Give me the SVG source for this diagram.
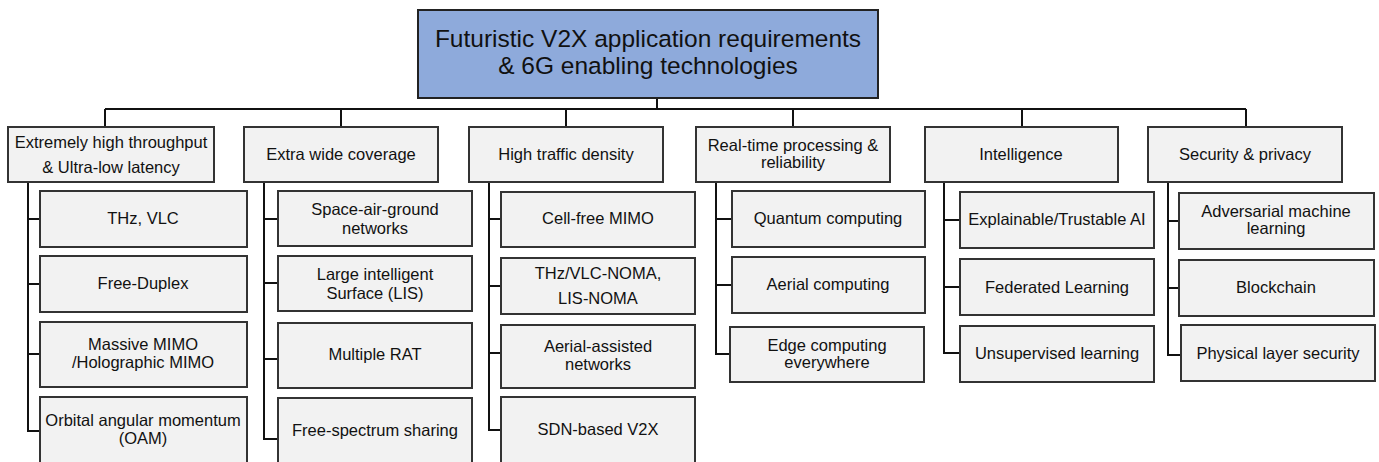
<svg xmlns="http://www.w3.org/2000/svg" width="1379" height="462" viewBox="0 0 1379 462">
<style>
.root{fill:#8eaadb;stroke:#222;stroke-width:2}
.box{fill:#f2f2f2;stroke:#333;stroke-width:2}
.t{font-family:"Liberation Sans",Arial,sans-serif;font-size:16.5px;fill:#111;text-anchor:middle}
.rt{font-family:"Liberation Sans",Arial,sans-serif;font-size:24.5px;fill:#111;text-anchor:middle}
.c{fill:none;stroke:#111;stroke-width:2}
</style>
<rect width="1379" height="462" fill="#fff"/>
<g id="connectors" class="c">
<path d="M657 98V109M105 109H1246M105 109V127M341 109V127M566 109V127M793 109V127M1022 109V127M1246 109V127"/>
<path d="M28 182V431H40M28 219H40M28 284H40M28 354H40"/>
<path d="M264 182V439H278M264 219H278M264 283H278M264 359H278"/>
<path d="M489 182V430H501M489 219H501M489 286H501M489 353H501"/>
<path d="M716 182V354H731M716 219H732M716 285H732"/>
<path d="M944 182V353H960M944 220H960M944 287H960"/>
<path d="M1168 182V355H1181M1168 221H1179M1168 288H1179"/>
</g>
<g id="root"><rect class="root" x="418" y="10" width="460" height="88"/><text class="rt" x="648" y="47">Futuristic V2X application requirements</text><text class="rt" x="648" y="74">&amp; 6G enabling technologies</text></g>
<g id="n1"><rect class="box" x="8" y="127" width="206" height="55"/><text class="t" x="111" y="148">Extremely high throughput</text><text class="t" x="111" y="173">&amp; Ultra-low latency</text></g>
<g id="n2"><rect class="box" x="244" y="127" width="194" height="55"/><text class="t" x="341" y="160">Extra wide coverage</text></g>
<g id="n3"><rect class="box" x="469" y="127" width="194" height="55"/><text class="t" x="566" y="160">High traffic density</text></g>
<g id="n4"><rect class="box" x="696" y="127" width="194" height="55"/><text class="t" x="793" y="151">Real-time processing &amp;</text><text class="t" x="793" y="168">reliability</text></g>
<g id="n5"><rect class="box" x="925" y="127" width="193" height="55"/><text class="t" x="1021" y="160">Intelligence</text></g>
<g id="n6"><rect class="box" x="1148" y="127" width="194" height="55"/><text class="t" x="1245" y="160">Security &amp; privacy</text></g>
<g id="n1a"><rect class="box" x="40" y="191" width="207" height="56"/><text class="t" x="143" y="224">THz, VLC</text></g>
<g id="n1b"><rect class="box" x="40" y="256" width="207" height="56"/><text class="t" x="143" y="289">Free-Duplex</text></g>
<g id="n1c"><rect class="box" x="40" y="322" width="207" height="65"/><text class="t" x="143" y="350">Massive MIMO</text><text class="t" x="143" y="368">/Holographic MIMO</text></g>
<g id="n1d"><rect class="box" x="40" y="397" width="207" height="80"/><text class="t" x="143" y="426">Orbital angular momentum</text><text class="t" x="143" y="444">(OAM)</text></g>
<g id="n2a"><rect class="box" x="278" y="191" width="194" height="55"/><text class="t" x="375" y="215">Space-air-ground</text><text class="t" x="375" y="234">networks</text></g>
<g id="n2b"><rect class="box" x="278" y="256" width="194" height="55"/><text class="t" x="375" y="280">Large intelligent</text><text class="t" x="375" y="299">Surface (LIS)</text></g>
<g id="n2c"><rect class="box" x="278" y="323" width="194" height="65"/><text class="t" x="375" y="360">Multiple RAT</text></g>
<g id="n2d"><rect class="box" x="278" y="398" width="194" height="80"/><text class="t" x="375" y="436">Free-spectrum sharing</text></g>
<g id="n3a"><rect class="box" x="501" y="192" width="194" height="55"/><text class="t" x="598" y="224">Cell-free MIMO</text></g>
<g id="n3b"><rect class="box" x="501" y="258" width="194" height="56"/><text class="t" x="598" y="279">THz/VLC-NOMA,</text><text class="t" x="598" y="304">LIS-NOMA</text></g>
<g id="n3c"><rect class="box" x="501" y="325" width="194" height="63"/><text class="t" x="598" y="352">Aerial-assisted</text><text class="t" x="598" y="370">networks</text></g>
<g id="n3d"><rect class="box" x="501" y="397" width="194" height="80"/><text class="t" x="598" y="435">SDN-based V2X</text></g>
<g id="n4a"><rect class="box" x="732" y="191" width="193" height="56"/><text class="t" x="828" y="224">Quantum computing</text></g>
<g id="n4b"><rect class="box" x="732" y="257" width="193" height="56"/><text class="t" x="828" y="290">Aerial computing</text></g>
<g id="n4c"><rect class="box" x="730" y="327" width="194" height="55"/><text class="t" x="827" y="351">Edge computing</text><text class="t" x="827" y="368">everywhere</text></g>
<g id="n5a"><rect class="box" x="960" y="192" width="194" height="56"/><text class="t" x="1057" y="225">Explainable/Trustable AI</text></g>
<g id="n5b"><rect class="box" x="960" y="259" width="194" height="56"/><text class="t" x="1057" y="293">Federated Learning</text></g>
<g id="n5c"><rect class="box" x="960" y="326" width="194" height="56"/><text class="t" x="1057" y="359">Unsupervised learning</text></g>
<g id="n6a"><rect class="box" x="1179" y="193" width="195" height="56"/><text class="t" x="1276" y="217">Adversarial machine</text><text class="t" x="1276" y="234">learning</text></g>
<g id="n6b"><rect class="box" x="1179" y="260" width="195" height="56"/><text class="t" x="1276" y="293">Blockchain</text></g>
<g id="n6c"><rect class="box" x="1181" y="325" width="194" height="56"/><text class="t" x="1278" y="359">Physical layer security</text></g>
</svg>
